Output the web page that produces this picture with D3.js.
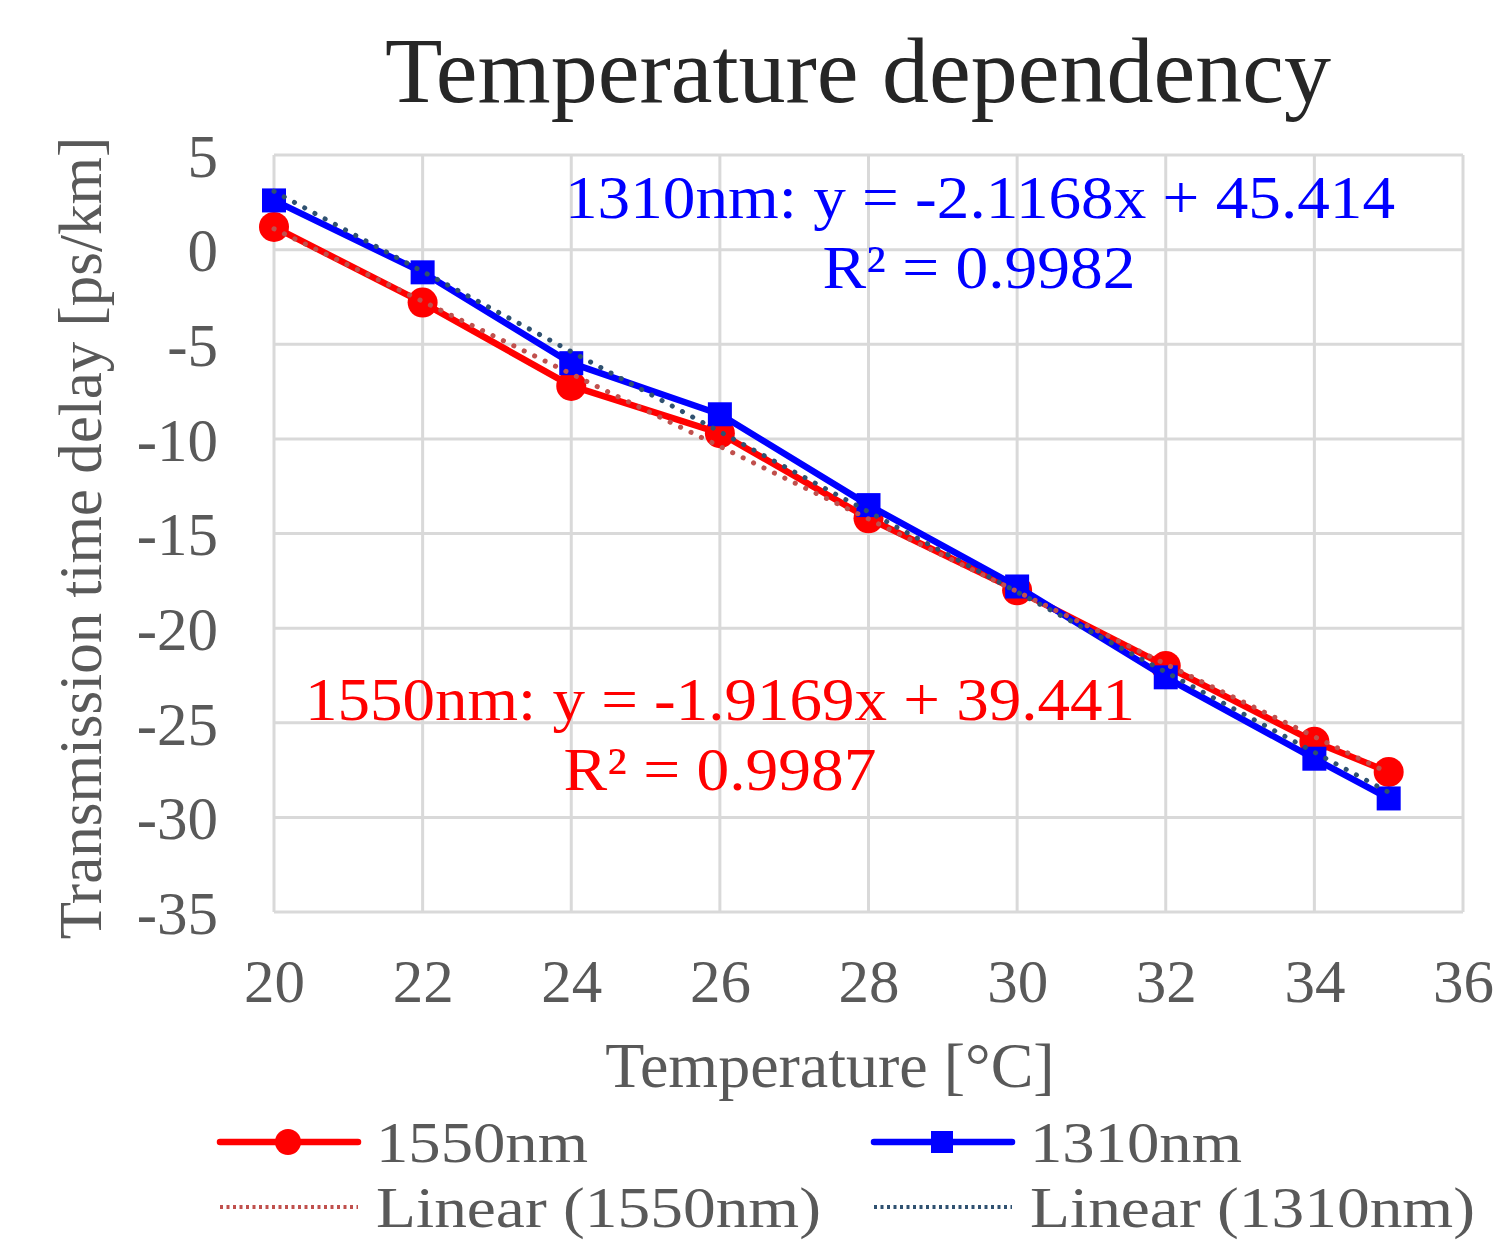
<!DOCTYPE html>
<html lang="en">
<head>
<meta charset="utf-8">
<title>Temperature dependency</title>
<script src="https://cdn.jsdelivr.net/npm/d3@7"></script>
<style>
  body, html { margin:0; padding:0; background:#fff; }
  svg { display:block; font-family:"Liberation Serif", "DejaVu Serif", serif; }
</style>
</head>
<body>
<svg id="chart" width="1497" height="1243"></svg>
<script>
// data
var temps    = [20, 22, 24, 26, 28, 30, 32, 34, 35];
var d1550    = [1.2, -2.8, -7.2, -9.7, -14.2, -18.0, -22.0, -26.0, -27.6];
var d1310    = [2.6, -1.2, -6.0, -8.7, -13.5, -17.8, -22.6, -26.9, -29.0];
var xTicks   = [20, 22, 24, 26, 28, 30, 32, 34, 36];
var yTicks   = [5, 0, -5, -10, -15, -20, -25, -30, -35];
// trendline coefficients as printed on the chart
var fit1550  = { slope: -1.9169, intercept: 39.441, r2: "0.9987" };
var fit1310  = { slope: -2.1168, intercept: 45.414, r2: "0.9982" };

var svg = d3.select('#chart');

var x = d3.scaleLinear().domain([20, 36]).range([274, 1463]);
var y = d3.scaleLinear().domain([-35, 5]).range([912, 155]);

var grey = '#595959';

// gridlines
var grid = svg.append('g');
grid.selectAll('.vg').data(xTicks).enter().append('line')
  .attr('x1', function(d){ return x(d); }).attr('x2', function(d){ return x(d); })
  .attr('y1', y(5)).attr('y2', y(-35))
  .attr('stroke', '#d9d9d9').attr('stroke-width', 3);
grid.selectAll('.hg').data(yTicks).enter().append('line')
  .attr('x1', x(20)).attr('x2', x(36))
  .attr('y1', function(d){ return y(d); }).attr('y2', function(d){ return y(d); })
  .attr('stroke', '#d9d9d9').attr('stroke-width', 3);

// axes (labels only, Excel style, plain hyphen minus)
var plain = function(d){ return String(d); };
var xAxis = svg.append('g').attr('transform', 'translate(0,' + y(-35) + ')')
  .call(d3.axisBottom(x).tickValues(xTicks).tickFormat(plain).tickSize(0).tickPadding(69));
var yAxis = svg.append('g').attr('transform', 'translate(' + x(20) + ',0)')
  .call(d3.axisLeft(y).tickValues(yTicks).tickFormat(plain).tickSize(0).tickPadding(56));
[xAxis, yAxis].forEach(function(a){
  a.select('.domain').remove();
  a.selectAll('text').attr('fill', grey).attr('dy', '0.35em').style('font-size', '61px')
    .style('font-family', '"Liberation Serif", serif');
});

// trendlines
function trend(fit, color) {
  var ends = [20, 35];
  svg.append('line')
    .attr('x1', x(ends[0])).attr('y1', y(fit.slope * ends[0] + fit.intercept))
    .attr('x2', x(ends[1])).attr('y2', y(fit.slope * ends[1] + fit.intercept))
    .attr('stroke', color).attr('stroke-width', 5)
    .attr('stroke-linecap', 'round').attr('stroke-dasharray', '0.1 11.5');
}

var line = d3.line()
  .x(function(d){ return x(d[0]); })
  .y(function(d){ return y(d[1]); });

var s1550 = d3.zip(temps, d1550);
var s1310 = d3.zip(temps, d1310);

svg.append('path').datum(s1550).attr('d', line)
  .attr('fill', 'none').attr('stroke', '#ff0000').attr('stroke-width', 6.5).attr('stroke-linejoin', 'round');
svg.selectAll('.m1550').data(s1550).enter().append('circle')
  .attr('cx', function(d){ return x(d[0]); }).attr('cy', function(d){ return y(d[1]); })
  .attr('r', 15).attr('fill', '#ff0000');

svg.append('path').datum(s1310).attr('d', line)
  .attr('fill', 'none').attr('stroke', '#0000ff').attr('stroke-width', 6.5).attr('stroke-linejoin', 'round');
svg.selectAll('.m1310').data(s1310).enter().append('rect')
  .attr('x', function(d){ return x(d[0]) - 12; }).attr('y', function(d){ return y(d[1]) - 12; })
  .attr('width', 24).attr('height', 24).attr('fill', '#0000ff');

trend(fit1550, '#c0504d');
trend(fit1310, '#2f5170');

// equations
function eqText(name, fit) {
  return name + ': y = ' + fit.slope.toFixed(4) + 'x + ' + fit.intercept.toFixed(3);
}
function label(x0, y0, anchor, color, txt, len) {
  svg.append('text').attr('x', x0).attr('y', y0).attr('text-anchor', anchor)
    .attr('fill', color).style('font-size', '62px')
    .attr('textLength', len).attr('lengthAdjust', 'spacingAndGlyphs').text(txt);
}
label(1395, 218, 'end', '#0000ff', eqText('1310nm', fit1310), 830);
label(979, 288, 'middle', '#0000ff', 'R² = ' + fit1310.r2, 313);
label(1135, 720, 'end', '#ff0000', eqText('1550nm', fit1550), 830);
label(720, 790, 'middle', '#ff0000', 'R² = ' + fit1550.r2, 313);

// title
svg.append('text').attr('x', 858).attr('y', 102).attr('text-anchor', 'middle')
  .attr('fill', '#262626').style('font-size', '94px').text('Temperature dependency');

// axis titles
svg.append('text').attr('x', 830).attr('y', 1087).attr('text-anchor', 'middle')
  .attr('fill', grey).style('font-size', '64px').text('Temperature [°C]');
svg.append('text').attr('transform', 'translate(101,538) rotate(-90)').attr('text-anchor', 'middle')
  .attr('fill', grey).style('font-size', '61px').text('Transmission time delay [ps/km]');

// legend
var legend = [
  { label: '1550nm', color: '#ff0000', type: 'circle', x: 218, y: 1142, w: 212 },
  { label: '1310nm', color: '#0000ff', type: 'rect', x: 872, y: 1142, w: 212 },
  { label: 'Linear (1550nm)', color: '#c0504d', type: 'dot', x: 218, y: 1207, w: 445 },
  { label: 'Linear (1310nm)', color: '#2f5170', type: 'dot', x: 872, y: 1207, w: 445 }
];
var lg = svg.selectAll('.lg').data(legend).enter().append('g')
  .attr('transform', function(d){ return 'translate(' + d.x + ',' + d.y + ')'; });
lg.append('line').attr('x1', 2).attr('x2', 140).attr('y1', 0).attr('y2', 0)
  .attr('stroke', function(d){ return d.color; })
  .attr('stroke-width', function(d){ return d.type === 'dot' ? 4 : 6.5; })
  .attr('stroke-linecap', function(d){ return d.type === 'dot' ? 'butt' : 'round'; })
  .attr('stroke-dasharray', function(d){ return d.type === 'dot' ? '3 3.5' : null; });
lg.filter(function(d){ return d.type === 'circle'; }).append('circle')
  .attr('cx', 70).attr('cy', 0).attr('r', 13).attr('fill', function(d){ return d.color; });
lg.filter(function(d){ return d.type === 'rect'; }).append('rect')
  .attr('x', 59).attr('y', -11).attr('width', 22).attr('height', 22).attr('fill', function(d){ return d.color; });
lg.append('text').attr('x', 158).attr('y', 0).attr('dy', '0.35em')
  .attr('textLength', function(d){ return d.w; }).attr('lengthAdjust', 'spacingAndGlyphs')
  .attr('fill', grey).style('font-size', '56px').text(function(d){ return d.label; });
</script>
</body>
</html>
